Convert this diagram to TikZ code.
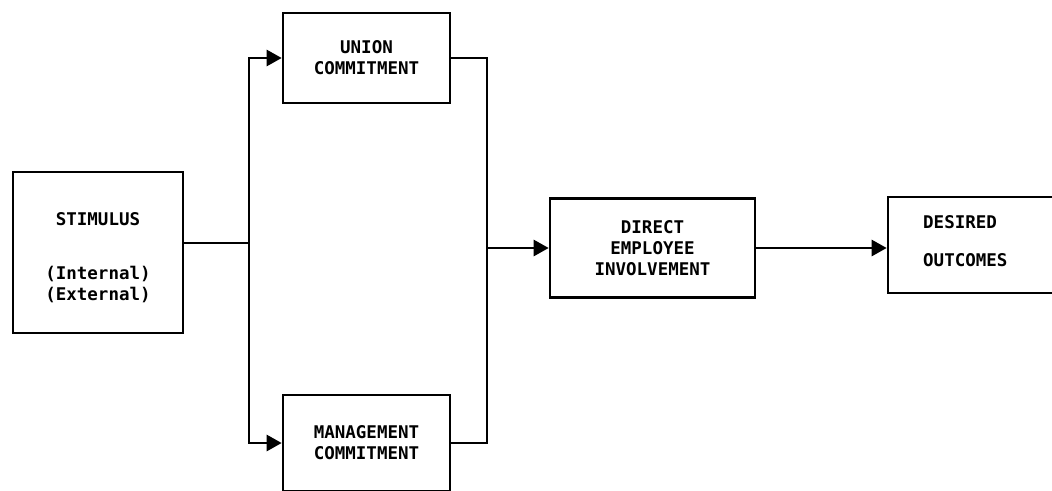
\documentclass[tikz,border=0pt]{standalone}
\usepackage{fontspec}
\usetikzlibrary{arrows.meta}
\newfontfamily\boxfont{DejaVu Sans Mono}
\begin{document}
\begin{tikzpicture}[x=1pt,y=-1pt,
  every node/.style={font=\boxfont\bfseries\fontsize{17.5}{21}\selectfont, inner sep=0pt},
  block/.style={draw, line width=2.6pt, align=center},
  link/.style={line width=2.6pt},
  arr/.style={link, -{Triangle[length=15pt,width=16pt]}}]
\useasboundingbox (0,0) rectangle (1052,490);
\clip (0,0) rectangle (1052,490);

% boxes
\node[block, minimum width=170pt, minimum height=161pt] (stim) at (98,252.5) {};
\node[align=center] (stimtext) at (98,258)
  {STIMULUS\\[33pt](Internal)\\(External)};
\node[block, minimum width=167pt, minimum height=90pt] (union) at (366.5,58)
  {UNION\\COMMITMENT};
\node[block, minimum width=167pt, minimum height=96pt] (mgmt) at (366.5,443)
  {MANAGEMENT\\COMMITMENT};
\node[block, minimum width=205pt, minimum height=99pt] (dei) at (652.5,248)
  {DIRECT\\EMPLOYEE\\INVOLVEMENT};
\node[block, minimum width=200pt, minimum height=96pt] (des) at (988,245) {};
\node[align=left, anchor=west] (destext) at (923,241)
  {DESIRED\\[17pt]OUTCOMES};

% branch and merge points
\coordinate (split) at (249,243);
\coordinate (merge) at (487,248);

% connectors
\draw[link] (stim.east |- split) -- (split);
\draw[arr] (split) |- (union.west);
\draw[arr] (split) |- (mgmt.west);
\draw[link] (union.east) -| (merge) |- (mgmt.east);
\draw[arr] (merge) -- (dei.west);
\draw[arr] (dei.east) -- (des.west |- dei.east);
\end{tikzpicture}
\end{document}
